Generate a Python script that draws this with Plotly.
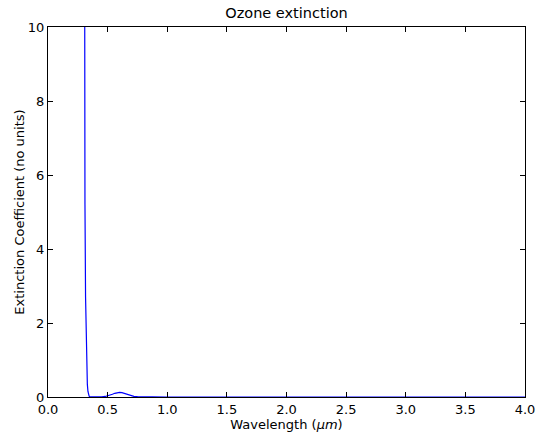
import plotly.graph_objects as go

wavelength = [0.300, 0.305, 0.310, 0.315, 0.320, 0.325, 0.330, 0.335, 0.340, 0.345, 0.350,
              0.40, 0.45, 0.48, 0.50, 0.52, 0.54, 0.56, 0.58, 0.60, 0.62, 0.64, 0.66,
              0.68, 0.70, 0.72, 0.75, 0.80, 0.90, 1.0, 1.5, 2.0, 2.5, 3.0, 3.5, 4.0]
extinction = [30.0, 10.5, 5.2, 2.7, 1.4, 0.7, 0.34, 0.15, 0.06, 0.02, 0.008,
              0.0, 0.004, 0.015, 0.03, 0.05, 0.075, 0.10, 0.12, 0.125, 0.118, 0.10, 0.075,
              0.05, 0.03, 0.018, 0.008, 0.003, 0.0, 0.0, 0.0, 0.0, 0.0, 0.0, 0.0, 0.0]

x_ticks = [0.0, 0.5, 1.0, 1.5, 2.0, 2.5, 3.0, 3.5, 4.0]
y_ticks = [0, 2, 4, 6, 8, 10]

fig = go.Figure(go.Scatter(x=wavelength, y=extinction, mode="lines",
                           line=dict(color="#0000ff", width=1.2)))

axis_common = dict(showgrid=False, zeroline=False, showline=True, linecolor="black",
                   linewidth=1, mirror="allticks", ticks="inside", ticklen=5,
                   tickcolor="black", tickwidth=1, automargin=False,
                   tickfont=dict(family="DejaVu Sans", size=13, color="black"))

fig.update_layout(
    width=536, height=434,
    margin=dict(l=48, r=11, t=27, b=37),
    paper_bgcolor="white", plot_bgcolor="white",
    showlegend=False,
    title=dict(text="Ozone extinction", x=0.5, xref="paper", xanchor="center",
               y=1 - 13 / 434, yref="container", yanchor="middle",
               font=dict(family="DejaVu Sans", size=14.5, color="black")),
    xaxis=dict(range=[0, 4], tickvals=x_ticks, ticktext=[f"{v:.1f}" for v in x_ticks],
               title=dict(text="Wavelength (<i>μm</i>)", standoff=1,
                          font=dict(family="DejaVu Sans", size=13, color="black")),
               **axis_common),
    yaxis=dict(range=[0, 10], tickvals=y_ticks, ticktext=[str(v) for v in y_ticks],
               title=dict(text="Extinction Coefficient (no units)", standoff=0,
                          font=dict(family="DejaVu Sans", size=13, color="black")),
               **axis_common),
)

fig.write_html("out.html")
